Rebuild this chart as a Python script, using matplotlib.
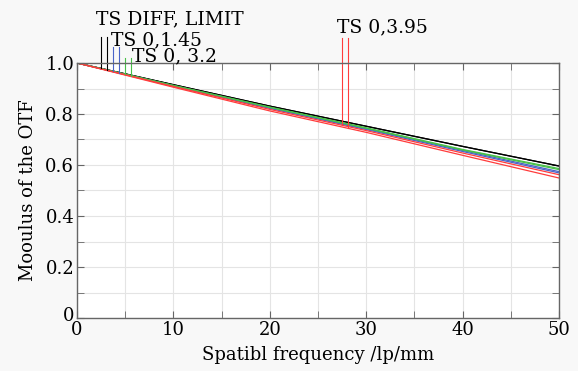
import numpy as np
import matplotlib
matplotlib.use("Agg")
import matplotlib.pyplot as plt
import matplotlib.transforms as mtransforms
from matplotlib.ticker import MultipleLocator

plt.rcParams["font.family"] = ["DejaVu Serif"]

freq = [0, 10, 20, 30, 40, 50]
diff_limit = [1.0, 0.915, 0.831, 0.752, 0.673, 0.596]
ts_145_t = [1.0, 0.911, 0.824, 0.742, 0.657, 0.574]
ts_145_s = [1.0, 0.910, 0.822, 0.739, 0.653, 0.569]
ts_32_t = [1.0, 0.912, 0.827, 0.746, 0.661, 0.586]
ts_32_s = [1.0, 0.912, 0.826, 0.744, 0.659, 0.582]
ts_395_t = [1.0, 0.908, 0.818, 0.735, 0.647, 0.562]
ts_395_s = [1.0, 0.905, 0.812, 0.728, 0.638, 0.549]

black = "#000000"
blue = "#4a64c8"
green = "#48c048"
red = "#ff3c3c"

series = [
    (diff_limit, black), (diff_limit, black),
    (ts_145_t, blue), (ts_145_s, blue),
    (ts_32_t, green), (ts_32_s, green),
    (ts_395_t, red), (ts_395_s, red),
]

fig = plt.figure(figsize=(5.78, 3.71), dpi=100, facecolor="#f8f8f8")
ax = fig.add_axes([77 / 578, 53 / 371, 482 / 578, 255 / 371])
ax.set_facecolor("white")

for vals, c in series:
    ax.plot(freq, vals, color=c, lw=0.9)

# label marker lines (T and S pair for each field)
marks = [
    ("TS DIFF, LIMIT", [2.45, 3.1], [diff_limit, diff_limit], black, 1.102, 2.0, 1.150),
    ("TS 0,1.45", [3.7, 4.4], [ts_145_t, ts_145_s], blue, 1.063, 3.5, 1.071),
    ("TS 0, 3.2", [5.0, 5.6], [ts_32_t, ts_32_s], green, 1.020, 5.7, 1.008),
    ("TS 0,3.95", [27.5, 28.15], [ts_395_t, ts_395_s], red, 1.100, 27.0, 1.120),
]
for text, xs, curves, c, ytop, tx, ty in marks:
    for xv, cv in zip(xs, curves):
        ybot = np.interp(xv, freq, cv)
        ax.plot([xv, xv], [ybot, ytop], color=c, lw=0.8, clip_on=False)
    ax.text(tx, ty, text, fontsize=13.5, ha="left", va="baseline", clip_on=False)

ax.set_xlim(0, 50)
ax.set_ylim(0, 1.0)
ax.xaxis.set_major_locator(MultipleLocator(10))
ax.xaxis.set_minor_locator(MultipleLocator(5))
ax.yaxis.set_minor_locator(MultipleLocator(0.1))
ax.set_yticks([0, 0.2, 0.4, 0.6, 0.8, 1.0])
ax.set_yticklabels(["0", "0.2", "0.4", "0.6", "0.8", "1.0"])
ax.grid(which="both", color="#e4e4e4", lw=0.8)
ax.set_axisbelow(True)
ax.tick_params(which="both", direction="in", top=True, right=True,
               color="#666666", labelsize=13, pad=2, length=5)
for sp in ax.spines.values():
    sp.set_color("#666666")
    sp.set_linewidth(1.0)

# lift the y "0" a little so it clears the x "0"
lbl = ax.get_yticklabels()[0]
lbl.set_transform(lbl.get_transform() + mtransforms.ScaledTranslation(0, 4 / 100, fig.dpi_scale_trans))

ax.set_xlabel("Spatibl frequency /lp/mm", fontsize=13, labelpad=5)
ax.set_ylabel("Mooulus of the OTF", fontsize=13, labelpad=6)

fig.savefig("out.png", dpi=100, facecolor=fig.get_facecolor())
